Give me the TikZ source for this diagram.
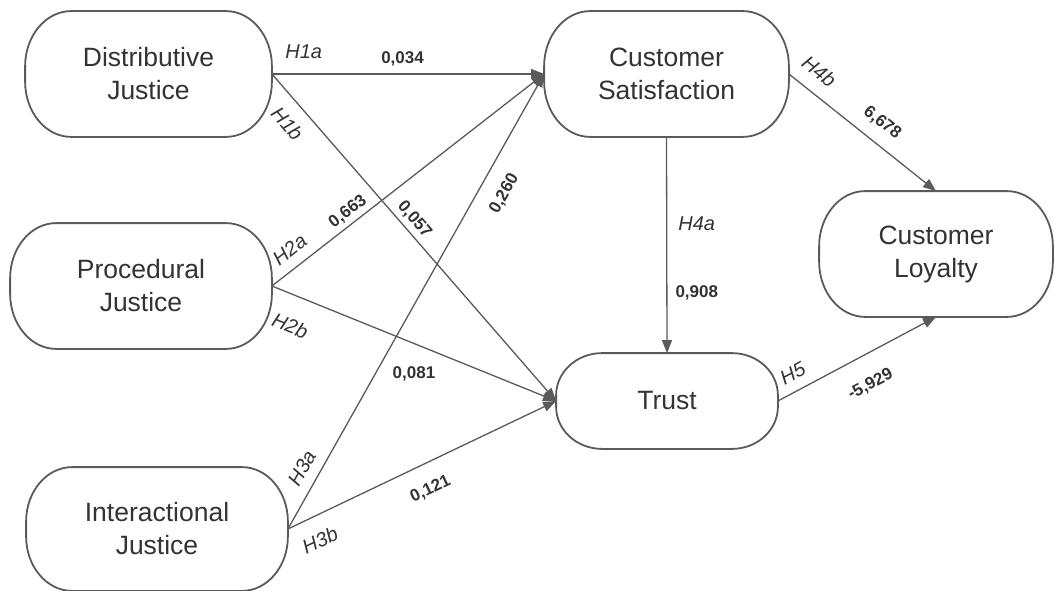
\documentclass[tikz,border=0pt]{standalone}
\usepackage{fontspec}
\setmainfont{Liberation Sans}
\usepackage{xcolor}
\usepackage{tikz}
\usetikzlibrary{
    arrows.meta,
    calc
}
\definecolor{inkgray}{HTML}{333333}
\definecolor{edgegray}{HTML}{5A5A5A}
\tikzset{
    construct/.style={line width=1.8pt, align=center, text=inkgray,
        minimum height=124pt, font=\fontsize{26.5}{33}\selectfont},
    outline/.style={draw=edgegray, line width=1.8pt},
    link/.style={draw=edgegray, line width=1.3pt},
    hyp/.style={font=\fontsize{20}{24}\selectfont\itshape, text=inkgray, inner sep=0pt},
    coef/.style={font=\fontsize{17}{20}\selectfont\bfseries, text=inkgray, inner sep=0pt},
    >={Triangle[length=13pt,width=10pt]}
}

\begin{document}
\begin{tikzpicture}[x=1pt,y=-1pt]
        \useasboundingbox (0,0) rectangle (1054,591);

        \draw (148.5,74) node[construct, minimum width=245pt](dj){Distributive\\Justice};
        \draw (141,286) node[construct, minimum width=260pt](pj){Procedural\\Justice};
        \draw (157,529) node[construct, minimum width=260pt, minimum height=122pt](ij){Interactional\\Justice};
        \draw (666.5,74) node[construct, minimum width=243pt](cs){Customer\\Satisfaction};
        \draw (936,254) node[construct, minimum width=232pt](cl){Customer\\Loyalty};
        \draw (667,401) node[construct, minimum width=220pt, minimum height=94pt](tr){Trust};

        % pill outlines with elliptic corners
        \foreach \nd in {dj,pj,ij,cs,cl,tr}
            \draw[outline] let \p1=(\nd.north west), \p2=(\nd.south east), \n1={0.44*(\y1-\y2)} in
                (\x1+46,\y1) -- (\x2-46,\y1)
                arc[start angle=90, end angle=0, x radius=46pt, y radius={\n1*1pt}]
                -- (\x2,\y2+\n1)
                arc[start angle=0, end angle=-90, x radius=46pt, y radius={\n1*1pt}]
                -- (\x1+46,\y2)
                arc[start angle=270, end angle=180, x radius=46pt, y radius={\n1*1pt}]
                -- (\x1,\y1-\n1)
                arc[start angle=180, end angle=90, x radius=46pt, y radius={\n1*1pt}]
                -- cycle;

        \draw[link,->] (dj.east) to node[hyp, pos=.117, above=15pt]{H1a} node[coef, pos=.48, above=7pt]{0,034} (cs.west);
        \draw[link,->] (dj.east) to node[hyp, sloped, pos=.11, below=13pt]{H1b} node[coef, sloped, pos=.47, above=4pt]{0,057} (tr.west);
        \draw[link,->] (pj.east) to node[hyp, sloped, pos=.105, above=10pt]{H2a} node[coef, sloped, pos=.306, above=4pt]{0,663} (cs.west);
        \draw[link,->] (pj.east) to node[hyp, sloped, pos=.104, below=22pt]{H2b} node[coef, pos=.5, below=22pt]{0,081} (tr.west);
        \draw[link,->] (ij.east) to node[hyp, sloped, pos=.115, above=10pt]{H3a} node[coef, sloped, pos=.763, below=16pt]{0,260} (cs.west);
        \draw[link,->] (ij.east) to node[hyp, sloped, pos=.081, below=16pt]{H3b} node[coef, sloped, pos=.49, below=18pt]{0,121} (tr.west);
        \draw[link,->] (cs.south) to node[hyp, pos=.4, right=11pt]{H4a} node[coef, pos=.72, right=8pt]{0,908} (tr.north);
        \draw[link,->] (cs.east) to node[hyp, sloped, pos=.117, above=13pt]{H4b} node[coef, sloped, pos=.55, above=12pt]{6,678} (cl.north);
        \draw[link,->] (tr.east) to node[hyp, sloped, pos=.146, above=10pt]{H5} node[coef, sloped, pos=.5, below=21pt]{-5,929} (cl.south);
    \end{tikzpicture}
\end{document}
